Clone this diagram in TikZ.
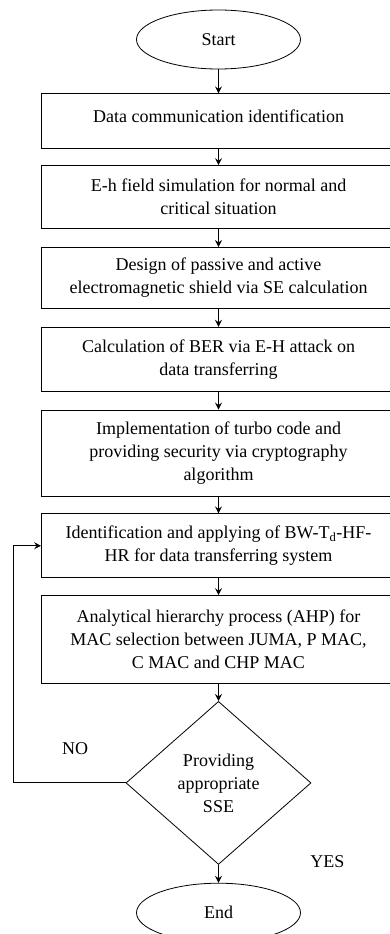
\documentclass[tikz,border=0pt]{standalone}
\usepackage{fontspec}
\setmainfont{Liberation Serif}
\usetikzlibrary{arrows.meta,positioning,shapes.geometric}

\begin{document}
\begin{tikzpicture}[
    x=1pt, y=1pt,
    >=Stealth,
    every node/.style={font=\fontsize{18}{23}\selectfont},
    box/.style={draw, line width=0.8pt, align=center, minimum width=354pt, inner sep=3pt},
    terminal/.style={draw, line width=0.8pt, ellipse, minimum width=164pt, minimum height=59pt},
    decision/.style={draw, line width=0.8pt, diamond, aspect=1.13, align=center, minimum width=185pt, minimum height=163pt, inner sep=0pt},
    arrow/.style={-{Stealth[length=7pt, width=7pt, inset=2.5pt]}, line width=1.3pt},
    loopback/.style={-{Stealth[length=7pt, width=7pt, inset=2.5pt]}, line width=0.9pt}
  ]
    \useasboundingbox (0,0) rectangle (390,-934);
    \clip (0,0) rectangle (390,-934);

    \node[terminal] (start) at (218.5,-39.5) {Start};
    \node[box, minimum height=55pt, text depth=10pt, below=24pt of start] (ident) {Data communication identification};
    \node[box, minimum height=63pt, below=16pt of ident] (field) {E-h field simulation for normal and\\critical situation};
    \node[box, minimum height=61pt, below=18pt of field] (shield) {Design of passive and active\\electromagnetic shield via SE calculation};
    \node[box, minimum height=64pt, below=18pt of shield] (ber) {Calculation of BER via E-H attack on\\data transferring};
    \node[box, minimum height=86pt, below=18pt of ber] (turbo) {Implementation of turbo code and\\providing security via cryptography\\algorithm};
    \node[box, minimum height=64pt, below=17pt of turbo] (bwtd) {Identification and applying of BW-T\textsubscript{d}-HF-\\HR for data transferring system};
    \node[box, minimum height=88pt, below=17pt of bwtd] (ahp) {Analytical hierarchy process (AHP) for\\MAC selection between JUMA, P MAC,\\C MAC and CHP MAC};
    \node[decision, below=17pt of ahp] (check) {Providing\\appropriate\\SSE};
    \node[terminal, below=18pt of check] (finish) {End};

    \draw[arrow] (start) -- (ident);
    \draw[arrow] (ident) -- (field);
    \draw[arrow] (field) -- (shield);
    \draw[arrow] (shield) -- (ber);
    \draw[arrow] (ber) -- (turbo);
    \draw[arrow] (turbo) -- (bwtd);
    \draw[arrow] (bwtd) -- (ahp);
    \draw[arrow] (ahp) -- (check);
    \draw[arrow] (check) -- node[pos=0, right=88pt, yshift=3pt] {YES} (finish);
    \draw[loopback] (check.west) -- ++(-112,0) node[pos=0.45, above=24pt] {NO} |- (bwtd.west);
  \end{tikzpicture}
\end{document}
